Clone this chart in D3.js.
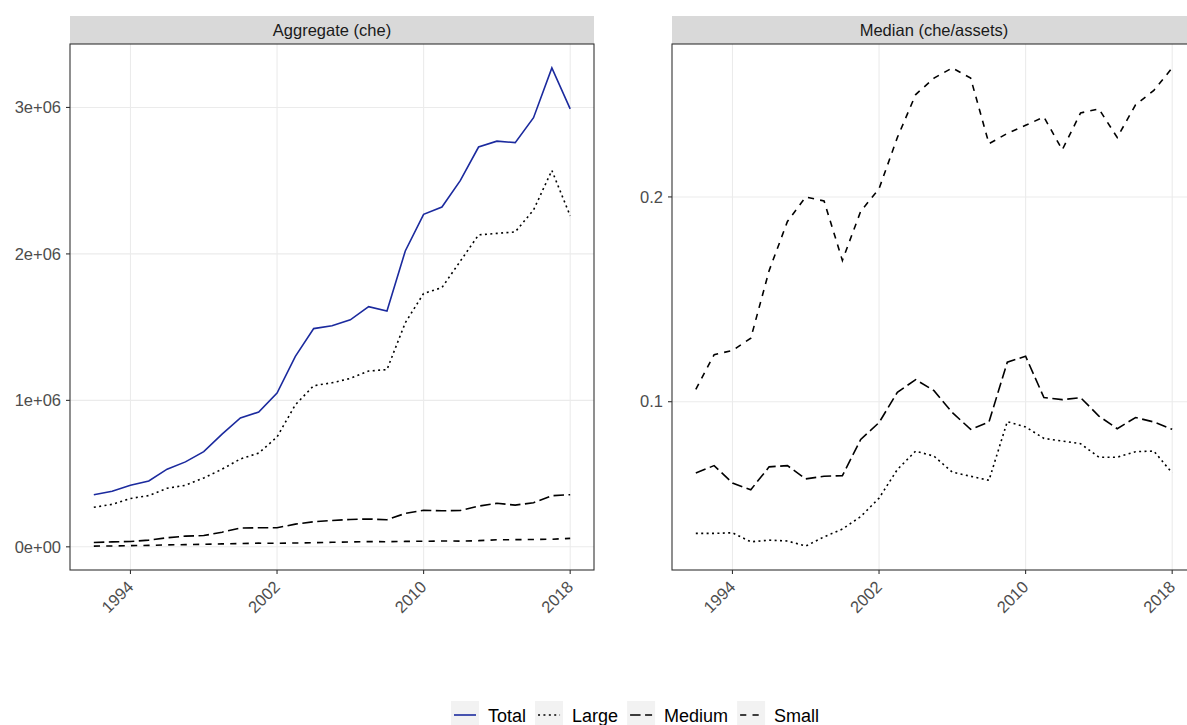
<!DOCTYPE html>
<html>
<head>
<meta charset="utf-8">
<script src="https://cdn.jsdelivr.net/npm/d3@7"></script>
<style>
  body { margin: 0; background: #fff; }
  svg { font-family: "Liberation Sans", Arial, sans-serif; display: block; }
</style>
</head>
<body>
<svg id="chart" width="1187" height="725"></svg>
<script>
// === DATA ===
const years = d3.range(1992, 2019);

// Aggregate cash holdings (che)
const totalAgg  = [0.356e6, 0.38e6, 0.42e6, 0.45e6, 0.53e6, 0.58e6, 0.65e6, 0.77e6, 0.88e6, 0.92e6, 1.05e6, 1.30e6, 1.49e6, 1.51e6, 1.55e6, 1.64e6, 1.61e6, 2.02e6, 2.27e6, 2.32e6, 2.50e6, 2.73e6, 2.77e6, 2.76e6, 2.93e6, 3.27e6, 2.99e6];
const largeAgg  = [0.27e6, 0.29e6, 0.33e6, 0.35e6, 0.40e6, 0.42e6, 0.47e6, 0.53e6, 0.60e6, 0.64e6, 0.75e6, 0.97e6, 1.10e6, 1.12e6, 1.15e6, 1.20e6, 1.21e6, 1.53e6, 1.73e6, 1.77e6, 1.95e6, 2.13e6, 2.14e6, 2.15e6, 2.30e6, 2.57e6, 2.26e6];
const mediumAgg = [0.030e6, 0.034e6, 0.036e6, 0.046e6, 0.062e6, 0.073e6, 0.077e6, 0.100e6, 0.128e6, 0.130e6, 0.130e6, 0.155e6, 0.171e6, 0.180e6, 0.187e6, 0.190e6, 0.185e6, 0.228e6, 0.250e6, 0.246e6, 0.248e6, 0.278e6, 0.297e6, 0.285e6, 0.301e6, 0.349e6, 0.356e6];
const smallAgg  = [0.005e6, 0.006e6, 0.008e6, 0.010e6, 0.013e6, 0.015e6, 0.017e6, 0.020e6, 0.022e6, 0.025e6, 0.024e6, 0.026e6, 0.028e6, 0.031e6, 0.033e6, 0.036e6, 0.035e6, 0.037e6, 0.038e6, 0.040e6, 0.039e6, 0.042e6, 0.048e6, 0.049e6, 0.050e6, 0.052e6, 0.058e6];

// Median che/assets
const largeMed  = [0.0357, 0.0357, 0.036, 0.0316, 0.0324, 0.032, 0.0295, 0.034, 0.0378, 0.0439, 0.0529, 0.0669, 0.0759, 0.0734, 0.0656, 0.0636, 0.0616, 0.0903, 0.0877, 0.0821, 0.0808, 0.0795, 0.0729, 0.0729, 0.0756, 0.0759, 0.0652];
const mediumMed = [0.0652, 0.0688, 0.0603, 0.057, 0.0682, 0.0688, 0.0623, 0.0636, 0.0639, 0.0816, 0.0898, 0.1046, 0.1108, 0.1054, 0.0947, 0.0865, 0.0901, 0.1193, 0.1222, 0.102, 0.101, 0.102, 0.093, 0.0868, 0.0923, 0.0901, 0.0865];
const smallMed  = [0.106, 0.123, 0.125, 0.131, 0.164, 0.188, 0.2, 0.198, 0.169, 0.193, 0.204, 0.229, 0.25, 0.258, 0.263, 0.258, 0.226, 0.231, 0.235, 0.239, 0.223, 0.241, 0.243, 0.229, 0.245, 0.252, 0.263];

const seriesNames = ["Total", "Large", "Medium", "Small"];
const xTicks = [1994, 2002, 2010, 2018];
const yTicksAgg = [0, 1e6, 2e6, 3e6];
const yTicksMed = [0.1, 0.2];

// === STYLE ===
const lineStyle = {
  Total:  { color: "#1b2a9e", dash: null },
  Large:  { color: "#000", dash: "2,3.4" },
  Medium: { color: "#000", dash: "10.5,4.5" },
  Small:  { color: "#000", dash: "6.2,6.2" }
};
const lw = 1.6;

const svg = d3.select("#chart");
const panelTop = 44, panelBottom = 570;

function expand(vals) {
  const [lo, hi] = d3.extent(vals);
  const pad = (hi - lo) * 0.05;
  return [lo - pad, hi + pad];
}

function drawPanel(opts) {
  const { left, right, title, series, yTicks, yFormat } = opts;
  const span = years[years.length - 1] - years[0];
  const x = d3.scaleLinear()
    .domain([years[0] - 0.05 * span, years[years.length - 1] + 0.05 * span])
    .range([left, right]);
  const y = d3.scaleLinear()
    .domain(expand(series.flatMap(s => s.values)))
    .range([panelBottom, panelTop]);

  const g = svg.append("g");

  // strip
  g.append("rect")
    .attr("x", left).attr("y", 16)
    .attr("width", right - left).attr("height", panelTop - 16)
    .attr("fill", "#d9d9d9");
  g.append("text")
    .attr("x", (left + right) / 2).attr("y", 36)
    .attr("text-anchor", "middle")
    .attr("font-size", 16.5)
    .attr("fill", "#1a1a1a")
    .text(title);

  // grid
  g.append("g").selectAll("line").data(yTicks).join("line")
    .attr("x1", left).attr("x2", right)
    .attr("y1", d => y(d)).attr("y2", d => y(d))
    .attr("stroke", "#ebebeb").attr("stroke-width", 1.1);
  g.append("g").selectAll("line").data(xTicks).join("line")
    .attr("x1", d => x(d)).attr("x2", d => x(d))
    .attr("y1", panelTop).attr("y2", panelBottom)
    .attr("stroke", "#ebebeb").attr("stroke-width", 1.1);

  // lines
  const line = d3.line().x((d, i) => x(years[i])).y(d => y(d));
  series.forEach(s => {
    const st = lineStyle[s.name];
    g.append("path")
      .datum(s.values)
      .attr("d", line)
      .attr("fill", "none")
      .attr("stroke", st.color)
      .attr("stroke-width", lw)
      .attr("stroke-dasharray", st.dash);
  });

  // border
  g.append("rect")
    .attr("x", left).attr("y", panelTop)
    .attr("width", right - left).attr("height", panelBottom - panelTop)
    .attr("fill", "none").attr("stroke", "#333").attr("stroke-width", 1.1);

  // y axis ticks + labels
  const yg = g.append("g");
  yg.selectAll("line").data(yTicks).join("line")
    .attr("x1", left - 4).attr("x2", left)
    .attr("y1", d => y(d)).attr("y2", d => y(d))
    .attr("stroke", "#333").attr("stroke-width", 1.1);
  yg.selectAll("text").data(yTicks).join("text")
    .attr("x", left - 9).attr("y", d => y(d))
    .attr("dy", "0.35em")
    .attr("text-anchor", "end")
    .attr("font-size", 16.5)
    .attr("fill", "#4d4d4d")
    .text(yFormat);

  // x axis ticks + labels
  const xg = g.append("g");
  xg.selectAll("line").data(xTicks).join("line")
    .attr("x1", d => x(d)).attr("x2", d => x(d))
    .attr("y1", panelBottom).attr("y2", panelBottom + 4)
    .attr("stroke", "#333").attr("stroke-width", 1.1);
  xg.selectAll("text").data(xTicks).join("text")
    .attr("transform", d => `translate(${x(d) + 4},${panelBottom + 18}) rotate(-45)`)
    .attr("text-anchor", "end")
    .attr("font-size", 16.5)
    .attr("fill", "#4d4d4d")
    .text(d => d);
}

drawPanel({
  left: 70, right: 594,
  title: "Aggregate (che)",
  series: [
    { name: "Total", values: totalAgg },
    { name: "Large", values: largeAgg },
    { name: "Medium", values: mediumAgg },
    { name: "Small", values: smallAgg }
  ],
  yTicks: yTicksAgg,
  yFormat: d => d === 0 ? "0e+00" : `${d / 1e6}e+06`
});

drawPanel({
  left: 672, right: 1196,
  title: "Median (che/assets)",
  series: [
    { name: "Large", values: largeMed },
    { name: "Medium", values: mediumMed },
    { name: "Small", values: smallMed }
  ],
  yTicks: yTicksMed,
  yFormat: d => d3.format(".1f")(d)
});

// === LEGEND ===
const legend = svg.append("g");
let lx = 451;
seriesNames.forEach(name => {
  const st = lineStyle[name];
  const item = legend.append("g");
  item.append("rect")
    .attr("x", lx).attr("y", 701)
    .attr("width", 28).attr("height", 28)
    .attr("fill", "#f2f2f2");
  item.append("line")
    .attr("x1", lx + 3).attr("x2", lx + 25)
    .attr("y1", 715).attr("y2", 715)
    .attr("stroke", st.color)
    .attr("stroke-width", lw)
    .attr("stroke-dasharray", st.dash);
  const t = item.append("text")
    .attr("x", lx + 37).attr("y", 722)
    .attr("font-size", 18)
    .attr("fill", "#000")
    .text(name);
  lx += 37 + t.node().getComputedTextLength() + 9;
});
</script>
</body>
</html>
